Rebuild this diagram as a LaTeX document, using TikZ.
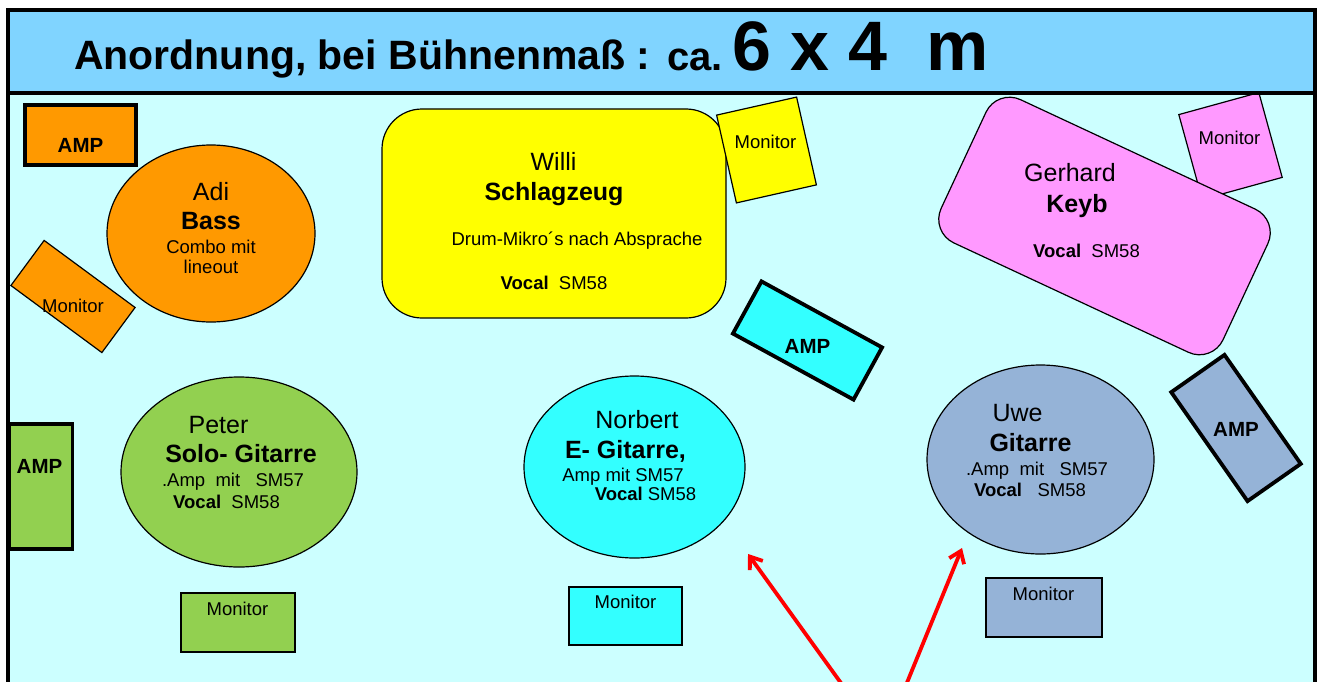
\documentclass[tikz,border=0pt]{standalone}
\usepackage{fontspec}
\setmainfont{Liberation Sans}
\usetikzlibrary{shapes.geometric,arrows.meta}
\definecolor{titlebg}{RGB}{128,212,255}
\definecolor{stagebg}{RGB}{204,255,255}
\definecolor{orng}{RGB}{255,153,0}
\definecolor{yel}{RGB}{255,255,0}
\definecolor{cyn}{RGB}{51,255,255}
\definecolor{pnk}{RGB}{255,153,255}
\definecolor{grn}{RGB}{146,208,80}
\definecolor{slate}{RGB}{149,179,215}
\definecolor{arrowred}{RGB}{255,0,0}
\tikzset{
  thinbox/.style={draw=black, line width=1.2pt, inner sep=0pt, outer sep=0pt},
  ampbox/.style={draw=black, line width=3.8pt, inner sep=0pt, outer sep=0pt},
  oval/.style={ellipse, draw=black, line width=1.2pt, inner sep=0pt, outer sep=0pt},
  small/.style={anchor=base, inner sep=0pt, font=\fontsize{18.5pt}{20pt}\selectfont},
  namelbl/.style={anchor=base, inner sep=0pt, font=\fontsize{25pt}{27pt}\selectfont},
  rolelbl/.style={anchor=base, inner sep=0pt, font=\bfseries\fontsize{25pt}{27pt}\selectfont},
  amplbl/.style={anchor=base, inner sep=0pt, font=\bfseries\fontsize{20.5pt}{22pt}\selectfont},
  redarrow/.style={draw=arrowred, line width=3.8pt, -{Straight Barb[length=11pt,width=16pt]}},
}
\begin{document}
\begin{tikzpicture}[x=1pt,y=-1pt]
\useasboundingbox (0,0) rectangle (1319,682);
\clip (0,0) rectangle (1319,682);
% backgrounds
\fill[stagebg] (8,93) rectangle (1315,700);
\fill[titlebg] (8,10) rectangle (1315,93);
% title
\node[anchor=base west, inner sep=0pt, font=\bfseries\fontsize{41pt}{44pt}\selectfont] (title) at (74,70) {Anordnung, bei Bühnenmaß :};
\node[anchor=base west, inner sep=0pt, font=\bfseries\fontsize{40pt}{44pt}\selectfont] (ca) at (667,71) {ca.};
\node[anchor=base west, inner sep=0pt, font=\bfseries\fontsize{70pt}{74pt}\selectfont] (size) at (732,71) {6 x 4~~m};

% Adi
\node[ampbox, fill=orng, minimum width=111, minimum height=60] (ampA) at (80.5,135.3) {};
\node[amplbl] (ampAt) at (80.5,152.5) {AMP};
\node[oval, fill=orng, minimum width=208, minimum height=177] (adi) at (211,233.5) {};
\node[namelbl] (adi1) at (211,200) {Adi};
\node[rolelbl] (adi2) at (211,229) {Bass};
\node[small] (adi3) at (211,253) {Combo mit};
\node[small] (adi4) at (211,273) {lineout};
\node[thinbox, fill=orng, minimum width=113, minimum height=56, rotate=-36.4] (monA) at (73,296.5) {};
\node[small] (monAt) at (73,312.5) {Monitor};

% Willi
\node[thinbox, fill=yel, rounded corners=40pt, minimum width=344, minimum height=209] (willi) at (554,213.5) {};
\node[namelbl] (willi1) at (553.5,170) {Willi};
\node[rolelbl] (willi2) at (554,200) {Schlagzeug};
\node[small] (willi3) at (577,245) {Drum-Mikro´s nach Absprache};
\node[small] (willi4) at (554,289) {\textbf{Vocal}~~SM58};
\node[thinbox, fill=yel, minimum width=82, minimum height=90, rotate=12.7] (monW) at (766.5,150) {};
\node[small] (monWt) at (765.5,149) {Monitor};

% Norbert AMP
\node[ampbox, fill=cyn, minimum width=137.5, minimum height=59.5, rotate=-28.7] (ampN) at (807.5,340.5) {};
\node[amplbl] (ampNt) at (807.5,353) {AMP};

% Gerhard
\node[thinbox, fill=pnk, minimum width=83, minimum height=88, rotate=15.4] (monG) at (1230.5,146) {};
\node[small] (monGt) at (1229.5,145) {Monitor};
\node[thinbox, fill=pnk, rounded corners=26pt, minimum width=311, minimum height=158, rotate=-25] (gerhard) at (1104.5,226) {};
\node[namelbl] (ger1) at (1070,181.5) {Gerhard};
\node[rolelbl] (ger2) at (1077,212) {Keyb};
\node[small] (ger3) at (1086.5,257) {\textbf{Vocal}~~SM58};

% Uwe AMP
\node[ampbox, fill=slate, minimum width=133, minimum height=65, rotate=-55] (ampU) at (1236,428) {};
\node[amplbl] (ampUt) at (1236,436.5) {AMP};

% Peter
\node[ampbox, fill=grn, minimum width=63, minimum height=125] (ampP) at (41,486.5) {};
\node[amplbl] (ampPt) at (39.5,473.3) {AMP};
\node[oval, fill=grn, minimum width=236, minimum height=190] (peter) at (239,472) {};
\node[namelbl] (pet1) at (218.5,433.3) {Peter};
\node[rolelbl] (pet2) at (241,462.7) {Solo- Gitarre};
\node[small] (pet3) at (233,486.7) {.Amp~~mit~~~SM57};
\node[small] (pet4) at (226.5,508.3) {\textbf{Vocal}~~SM58};
\node[thinbox, fill=grn, minimum width=114, minimum height=59] (monP) at (238,622.5) {};
\node[small] (monPt) at (237.5,615) {Monitor};

% Norbert
\node[oval, fill=cyn, minimum width=221, minimum height=182] (norbert) at (634.5,467) {};
\node[namelbl] (nor1) at (637,428.3) {Norbert};
\node[rolelbl] (nor2) at (625.5,458.3) {E- Gitarre,};
\node[small] (nor3) at (623,481) {Amp mit SM57};
\node[small] (nor4) at (645.5,500) {\textbf{Vocal} SM58};
\node[thinbox, fill=cyn, minimum width=113, minimum height=58] (monN) at (625.5,616) {};
\node[small] (monNt) at (625.5,608.3) {Monitor};

% Uwe
\node[oval, fill=slate, minimum width=227, minimum height=189] (uwe) at (1040.5,459.5) {};
\node[namelbl] (uwe1) at (1017.5,421.7) {Uwe};
\node[rolelbl] (uwe2) at (1030.5,451.7) {Gitarre};
\node[small] (uwe3) at (1037,475) {.Amp~~mit~~~SM57};
\node[small] (uwe4) at (1030,496) {\textbf{Vocal}~~~SM58};
\node[thinbox, fill=slate, minimum width=116, minimum height=59] (monU) at (1044,607.5) {};
\node[small] (monUt) at (1043.5,600) {Monitor};

% red arrows
\coordinate (r1s) at (846,690);
\coordinate (r1e) at (748,554);
\coordinate (r2s) at (904,690);
\coordinate (r2e) at (962,548);
\draw[redarrow] (r1s) -- (r1e);
\draw[redarrow] (r2s) -- (r2e);

% frame
\draw[line width=4pt] (8,700) -- (8,10.5) -- (1315,10.5) -- (1315,700);
\draw[line width=3.5pt] (8,93) -- (1315,93);
\end{tikzpicture}
\end{document}
